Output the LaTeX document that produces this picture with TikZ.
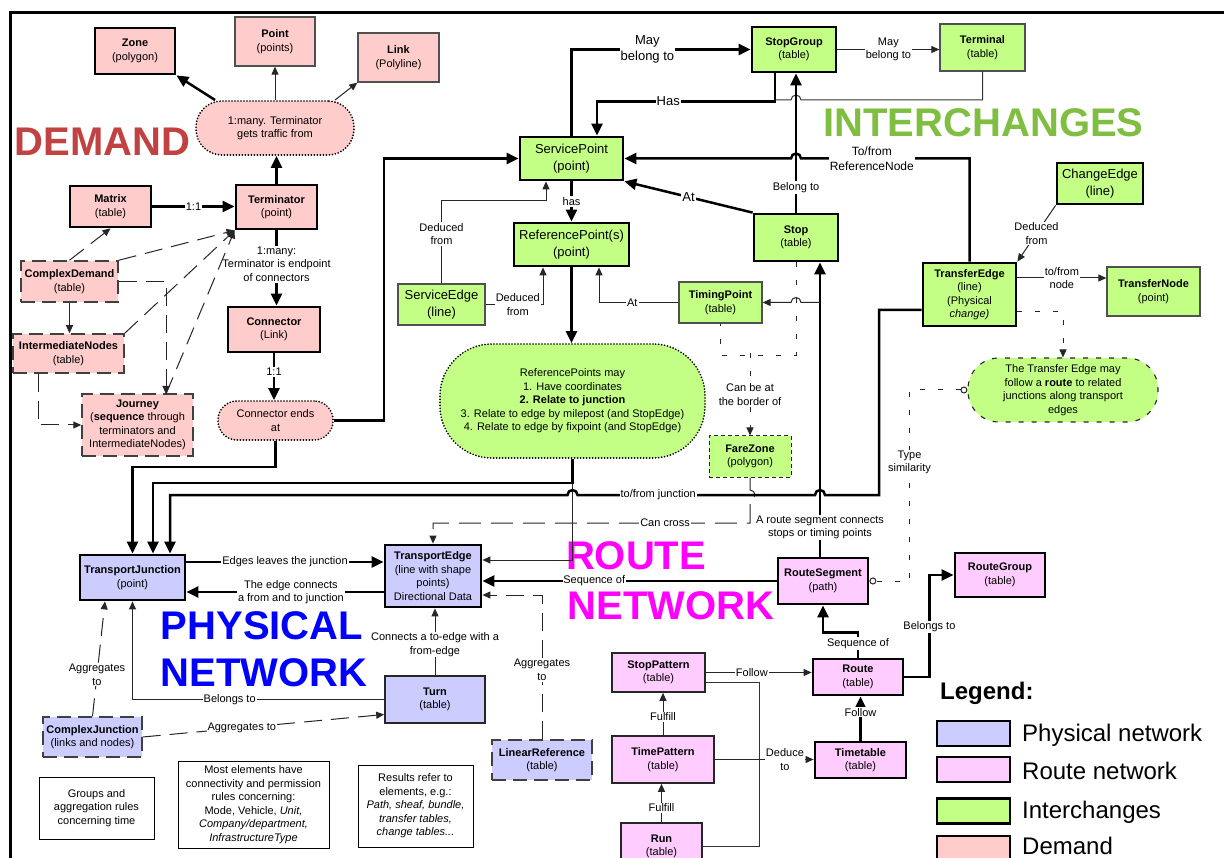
\documentclass[tikz,border=0pt]{standalone}
\usepackage{fontspec}
\setmainfont{Liberation Sans}
\usetikzlibrary{arrows.meta,calc}

\definecolor{demfill}{RGB}{255,204,204}
\definecolor{intfill}{RGB}{196,255,133}
\definecolor{phyfill}{RGB}{204,204,255}
\definecolor{rtefill}{RGB}{255,204,255}
\definecolor{demtext}{RGB}{192,66,66}
\definecolor{inttext}{RGB}{128,190,66}
\definecolor{phytext}{RGB}{0,0,255}
\definecolor{rtetext}{RGB}{255,0,255}
\definecolor{edgegray}{RGB}{80,80,80}

\newcommand{\fsmall}{\fontsize{11}{13.5}\selectfont}
\newcommand{\fmid}{\fontsize{12}{14.5}\selectfont}
\newcommand{\fbig}{\fontsize{13}{16.5}\selectfont}
\newcommand{\fhuge}{\fontsize{40}{44}\selectfont\bfseries}
\newcommand{\flegend}{\fontsize{24}{28}\selectfont}

\tikzset{
  box/.style={rectangle, align=center, inner sep=1pt, font=\fsmall, text=black},
  sz/.style 2 args={minimum width=#1pt, minimum height=#2pt},
  thickbox/.style={box, draw=black, line width=2.8pt},
  thinbox/.style={box, draw=edgegray, line width=1.3pt},
  midbox/.style={box, draw=black!85, line width=1.6pt},
  dashbox/.style={box, draw=black!75, line width=1.5pt, dash pattern=on 14pt off 7pt},
  finebox/.style={box, draw=black!85, line width=1pt, dash pattern=on 4pt off 3pt},
  dotblob/.style={box, draw=black, line width=1.9pt, dash pattern=on 0pt off 3pt, line cap=round},
  dashblob/.style={box, draw=black!85, line width=1.1pt, dash pattern=on 5pt off 8pt},
  notebox/.style={box, draw=black, line width=1pt},
  legsw/.style={draw=black, line width=2.5pt, minimum width=73pt, minimum height=25pt, inner sep=0pt},
  legtxt/.style={font=\flegend, anchor=west, inner sep=0pt},
  dem/.style={fill=demfill}, int/.style={fill=intfill},
  phy/.style={fill=phyfill}, rte/.style={fill=rtefill},
  lab/.style={fill=white, inner sep=1pt, font=\fsmall, align=center, text=black},
  midlab/.style={lab, font=\fmid},
  biglab/.style={lab, font=\fbig},
  heavy/.style={line width=2.5pt, -{Triangle[length=12pt,width=11pt]}},
  light/.style={line width=1pt, draw=black!85, -{Triangle[length=8pt,width=7pt]}},
  lightplain/.style={line width=1pt, draw=black!80},
  longdash/.style={light, dash pattern=on 18pt off 9pt},
  sparse/.style={line width=1pt, draw=black!85, dash pattern=on 5pt off 13pt},
  tip/.style={-{Triangle[length=8pt,width=7pt]}},
  huge/.style={font=\fhuge, inner sep=0pt},
}

\begin{document}
\begin{tikzpicture}[x=1pt,y=-1pt]
\useasboundingbox (0,0) rectangle (1224,858);
\clip (0,0) rectangle (1224,858);
\fill[white] (0,0) rectangle (1224,858);

% frame
\draw[line width=3pt] (10,870) -- (10,13) -- (1230,13);

% area titles
\node[huge, text=demtext] (tDemand) at (102.5,142) {DEMAND};
\node[huge, text=inttext] (tInter) at (983.5,123) {INTERCHANGES};
\node[huge, text=phytext] (tPhys1) at (262,626) {PHYSICAL};
\node[huge, text=phytext] (tPhys2) at (264,673) {NETWORK};
\node[huge, text=rtetext] (tRoute1) at (636,556) {ROUTE};
\node[huge, text=rtetext] (tRoute2) at (671,606) {NETWORK};

% ---------------- demand
\node[thickbox, dem, sz={80}{46}] (Zone) at (135,51) {\textbf{Zone}\\(polygon)};
\node[thinbox, dem, sz={80}{49}] (Point) at (275,41.5) {\textbf{Point}\\(points)};
\node[thinbox, dem, sz={81}{49}] (Link) at (398.5,57.5) {\textbf{Link}\\(Polyline)};
\node[dotblob, dem, sz={158}{54}, rounded corners=26pt] (traffic) at (275,128) {1:many. Terminator\\gets traffic from};
\node[thickbox, dem, sz={81}{41}] (Matrix) at (110.5,206.5) {\textbf{Matrix}\\(table)};
\node[thickbox, dem, sz={81}{44}] (Terminator) at (276.5,207) {\textbf{Terminator}\\(point)};
\node[dashbox, dem, sz={97}{41}] (CD) at (69.5,281.5) {\textbf{ComplexDemand}\\(table)};
\node[dashbox, dem, sz={111}{39}] (IN) at (68.5,353.5) {\textbf{IntermediateNodes}\\(table)};
\node[dashbox, dem, sz={111}{62}] (Journey) at (137.5,425) {\textbf{Journey}\\(\textbf{sequence} through\\terminators and\\IntermediateNodes)};
\node[thickbox, dem, sz={92}{45}] (Connector) at (274,329.5) {\textbf{Connector}\\(Link)};
\node[dotblob, dem, sz={115}{39}, rounded corners=19pt] (ConnEnds) at (275.5,420.5) {Connector ends\\at};
\coordinate (jtop) at (166,394);

% ---------------- interchanges
\node[thickbox, int, sz={84}{45}] (StopGroup) at (794,49.5) {\textbf{StopGroup}\\(table)};
\node[thinbox, int, sz={85}{47}] (Terminal) at (982.5,47.5) {\textbf{Terminal}\\(table)};
\node[thickbox, int, sz={103}{43}, font=\fbig] (ServicePoint) at (571.5,158.5) {ServicePoint\\(point)};
\node[thickbox, int, sz={115}{43}, font=\fbig] (ReferencePoint) at (571.5,244.5) {ReferencePoint(s)\\(point)};
\node[thinbox, int, sz={87}{41}, font=\fbig] (ServiceEdge) at (441.5,304.5) {ServiceEdge\\(line)};
\node[thickbox, int, sz={84}{47}] (Stop) at (796,237.5) {\textbf{Stop}\\(table)};
\node[thinbox, int, sz={83}{41}] (TimingPoint) at (720.5,302.5) {\textbf{TimingPoint}\\(table)};
\node[thickbox, int, sz={93}{63}] (TransferEdge) at (969.5,294.5) {\textbf{TransferEdge}\\(line)\\(Physical\\\textit{change)}};
\node[thickbox, int, sz={86}{41}, font=\fbig] (ChangeEdge) at (1100,183.5) {ChangeEdge\\(line)};
\node[thinbox, int, sz={93}{49}] (TransferNode) at (1153.5,291.5) {\textbf{TransferNode}\\(point)};
\node[dotblob, int, sz={265}{114}, rounded corners=52pt] (RefMay) at (572.5,401) {ReferencePoints may\\1. Have coordinates\\\textbf{2. Relate to junction}\\3. Relate to edge by milepost (and StopEdge)\\4. Relate to edge by fixpoint (and StopEdge)};
\node[finebox, int, sz={82}{41}] (FareZone) at (750,456.5) {\textbf{FareZone}\\(polygon)};
\node[dashblob, int, sz={190}{64}, rounded corners=31pt] (TransferMay) at (1063,390) {The Transfer Edge may\\follow a \textbf{route} to related\\junctions along transport\\edges};

% ---------------- physical network
\node[thickbox, phy, sz={105}{45}] (TJ) at (132.5,577.5) {\textbf{TransportJunction}\\(point)};
\node[thickbox, phy, sz={96}{62}] (TE) at (433,576) {\textbf{TransportEdge}\\(line with shape\\points)\\Directional Data};
\node[midbox, phy, sz={100}{47}] (Turn) at (435,699.5) {\textbf{Turn}\\(table)};
\node[dashbox, phy, sz={99}{40}] (CJ) at (92.5,737) {\textbf{ComplexJunction}\\(links and nodes)};
\node[dashbox, phy, sz={100}{40}] (LR) at (542,760) {\textbf{LinearReference}\\(table)};

% ---------------- route network
\node[thickbox, rte, sz={90}{46}] (RouteSegment) at (823,581) {\textbf{RouteSegment}\\(path)};
\node[thickbox, rte, sz={90}{44}] (RouteGroup) at (1000,575) {\textbf{RouteGroup}\\(table)};
\node[thickbox, rte, sz={90}{36}] (Route) at (858,677) {\textbf{Route}\\(table)};
\node[thickbox, rte, sz={91}{36}] (Timetable) at (860.5,760) {\textbf{Timetable}\\(table)};
\node[midbox, rte, sz={93}{39}] (StopPattern) at (658.5,672.5) {\textbf{StopPattern}\\(table)};
\node[midbox, rte, sz={102}{47}] (TimePattern) at (663,759.5) {\textbf{TimePattern}\\(table)};
\node[midbox, rte, sz={81}{47}] (Run) at (661.5,846.5) {\textbf{Run}\\(table)};

% ---------------- notes
\node[notebox, sz={115}{62}] (noteA) at (96.5,808) {Groups and\\aggregation rules\\concerning time};
\node[notebox, sz={151}{87}] (noteB) at (253.5,804.5) {Most elements have\\connectivity and permission\\rules concerning:\\Mode, Vehicle, \textit{Unit,}\\\textit{Company/department,}\\\textit{InfrastructureType}};
\node[notebox, sz={115}{82}] (noteC) at (415.5,806) {Results refer to\\elements, e.g.:\\\textit{Path, sheaf, bundle,}\\\textit{transfer tables,}\\\textit{change tables...}};

% ---------------- legend
\node[font=\flegend\bfseries, anchor=west, inner sep=0pt] (legT) at (940,693) {Legend:};
\node[legsw, phy] (lg1) at (973.5,733.5) {};
\node[legsw, rte] (lg2) at (973.5,769.5) {};
\node[legsw, int] (lg3) at (973.5,811) {};
\node[legsw, dem] (lg4) at (973.5,848.5) {};
\node[legtxt] (lt1) at (1022,735) {Physical network};
\node[legtxt] (lt2) at (1022,771) {Route network};
\node[legtxt] (lt3) at (1022,812) {Interchanges};
\node[legtxt] (lt4) at (1022,846) {Demand};

% ================= connectors: demand
\draw[heavy] (traffic.155) -- (Zone.south east);
\draw[light] (traffic.north) -- (Point.south);
\draw[light] (traffic.25) -- (Link.south west);
\draw[heavy] (Terminator.north) -- (Terminator.north |- traffic.south);
\draw[heavy] (Matrix.east) -- node[lab]{1:1} (Matrix.east -| Terminator.west);
\draw[heavy] (Terminator.south) -- node[lab,pos=0.45]{1:many:\\Terminator is endpoint\\of connectors} (Terminator.south |- Connector.north);
\draw[heavy] (Connector.south) -- node[lab,pos=0.4]{1:1} (Connector.south |- ConnEnds.north);
\draw[heavy] (ConnEnds.east) -- ++(50,0) |- (ServicePoint.west);
\draw[heavy] (ConnEnds.south) -- ++(0,26) -| (TJ.north);
\draw[longdash] (CD.north) -- (Matrix.south);
\draw[longdash] (CD.north east) -- (Terminator.south west);
\draw[longdash] (IN.north east) -- (Terminator.south west);
\draw[longdash] (jtop) -- (Terminator.south west);
\draw[longdash] (CD.east) -| (jtop);
\draw[light] (CD.south) -- (CD.south |- IN.north);
\draw[longdash] ([xshift=-30.5pt]IN.south) |- (Journey.west);

% ================= connectors: interchanges
\draw[heavy] (ServicePoint.north) |- node[biglab,pos=0.712]{May\\belong to} (StopGroup.west);
\draw[heavy] ([xshift=-19pt]StopGroup.south) -- ++(0,28) -| node[biglab,pos=0.3]{Has} ([xshift=25.5pt]ServicePoint.north);
\draw[lightplain] (Terminal.south) |- (801,100) arc[start angle=0,end angle=-180,radius=5] -- (775,100);
\draw[light] (StopGroup.east) -- node[lab]{May\\belong to} (StopGroup.east -| Terminal.west);
\draw[heavy] (Stop.north) -- node[lab,pos=0.18]{Belong to} (Stop.north |- StopGroup.south);
\draw[heavy] (Stop.north west) -- node[biglab]{At} (ServicePoint.south east);
\draw[heavy] (TransferEdge.north) |- node[midlab,pos=0.79]{To/from\\ReferenceNode} (801,158.5) arc[start angle=0,end angle=-180,radius=5] -- (ServicePoint.east);
\draw[heavy] (ServicePoint.south) -- node[lab]{has} (ReferencePoint.north);
\draw[light] (ServiceEdge.north) -- node[lab,pos=0.6]{Deduced\\from} ++(0,-82.5) -| ([xshift=-25.5pt]ServicePoint.south);
\draw[light] (ServiceEdge.east) -| node[lab,pos=0.28]{Deduced\\from} ([xshift=-28.5pt]ReferencePoint.south);
\draw[light] (TimingPoint.west) -| node[lab,pos=0.29]{At} ([xshift=27.5pt]ReferencePoint.south);
\draw[heavy] (ReferencePoint.south) -- (ReferencePoint.south |- RefMay.north);

\coordinate (stopin) at ($(Stop.south)+(24,0)$);
\coordinate (rsout) at ($(RouteSegment.north)+(-3,0)$);
\draw[heavy] (rsout) -- node[lab,pos=0.1]{A route segment connects\\stops or timing points} (stopin);
\draw[light] (stopin |- TimingPoint.east) -- (801,302.5) arc[start angle=0,end angle=-180,radius=5] -- (TimingPoint.east);

\draw[sparse] (Stop.south) -- ++(0,93) -| (TimingPoint.south);
\coordinate (fzsplit) at ($(FareZone.north)+(0,-82)$);
\draw[sparse, tip] (fzsplit) -- node[lab]{Can be at\\the border of} (FareZone.north);
\draw[line width=1pt, draw=black!85, dash pattern=on 22pt off 10pt, tip] (FareZone.south) -- (750,490) arc[start angle=-90,end angle=90,radius=5] -- (750,523) -| node[lab,pos=0.134]{Can cross} (TE.north);

\coordinate (rmj) at ($(RefMay.south)+(0,24)$);
\draw[heavy] (RefMay.south) -- (rmj) -| ([xshift=20.5pt]TJ.north);
\draw[light] (rmj) |- ([yshift=16pt]TE.east);

\draw[heavy] ([yshift=-15.5pt]TransferEdge.west) -- (879,310) -- (879,495) -- (825,495) arc[start angle=0,end angle=-180,radius=5] -- node[lab,pos=0.66]{to/from junction} (577.5,495) arc[start angle=0,end angle=-180,radius=5] -| ([xshift=37.5pt]TJ.north);

\draw[light] ([yshift=16.5pt]TransferEdge.east) -- node[lab]{to/from\\node} ([yshift=13.5pt]TransferNode.west);
\draw[light] (ChangeEdge.south west) -- node[lab]{Deduced\\from} (TransferEdge.north east);
\draw[sparse, tip] ([yshift=-17.5pt]TransferEdge.east) -| (TransferMay.north);
\draw[sparse, {Circle[open,length=7pt]}-{Circle[open,length=7pt]}] (TransferMay.west) -- ++(-58,0) |- node[lab,pos=0.19]{Type\\similarity} (RouteSegment.east);

% ================= connectors: route network
\draw[heavy] (RouteSegment.west) -- node[lab,inner sep=0.5pt,pos=0.62]{Sequence of} (RouteSegment.west -| TE.east);
\draw[heavy] (Route.north) -- node[lab,pos=0.56]{Sequence of} ++(0,-25) -| (RouteSegment.south);
\draw[heavy] (Route.east) -- ++(25,0) |- node[lab,pos=0.245]{Belongs to} (RouteGroup.west);
\draw[heavy] (Timetable.north) -- node[lab,pos=0.64]{Follow} (Timetable.north |- Route.south);
\draw[light] (StopPattern.east) -- node[lab,pos=0.435]{Follow} (StopPattern.east -| Route.west);
\draw[light] (TimePattern.north) -- node[lab,pos=0.43]{Fulfill} (TimePattern.north |- StopPattern.south);
\draw[light] (Run.north) -- node[lab,pos=0.375]{Fulfill} (Run.north |- TimePattern.south);
\draw[light] (TimePattern.east) -- node[lab,pos=0.71]{Deduce\\to} (TimePattern.east -| Timetable.west);
\draw[lightplain] ([yshift=-10pt]StopPattern.east) -- ++(54,0) |- (Run.east);

% ================= connectors: physical network
\draw[heavy] ([yshift=15.5pt]TJ.east) -- node[lab]{Edges leaves the junction} ([yshift=15.5pt]TJ.east -| TE.west);
\draw[heavy] ([yshift=-16pt]TE.west) -- node[lab,pos=0.47]{The edge connects\\a from and to junction} ([yshift=-16pt]TE.west -| TJ.east);
\draw[light] (Turn.west) -| node[lab,pos=0.307]{Belongs to} (TJ.south);
\draw[light] (Turn.north) -- node[lab,pos=0.46]{Connects a to-edge with a\\from-edge} (Turn.north |- TE.south);
\draw[longdash] (CJ.north) -- node[lab,pos=0.36]{Aggregates\\to} ([xshift=-27.5pt]TJ.south);
\draw[longdash] (CJ.east) -- node[lab,pos=0.41]{Aggregates to} ([yshift=-15pt]Turn.west);
\draw[longdash] (LR.north) |- node[lab,pos=0.24]{Aggregates\\to} ([yshift=-19pt]TE.east);
\end{tikzpicture}
\end{document}
